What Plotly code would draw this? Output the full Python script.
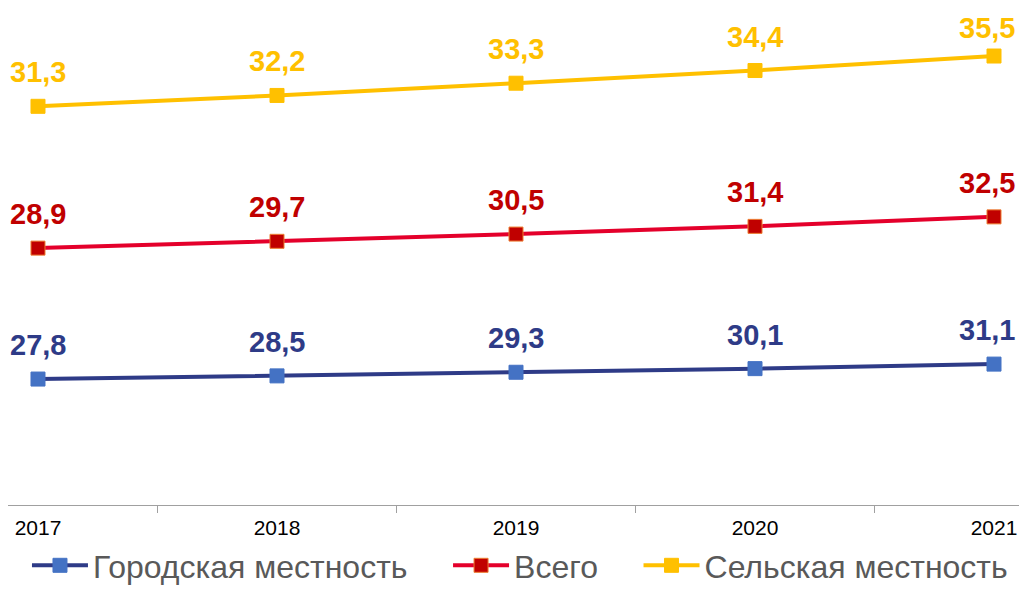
import numpy as np
import plotly.graph_objects as go

years = ["2017", "2018", "2019", "2020", "2021"]
urban = [27.8, 28.5, 29.3, 30.1, 31.1]
total = [28.9, 29.7, 30.5, 31.4, 32.5]
rural = [31.3, 32.2, 33.3, 34.4, 35.5]

names = ["Городская местность", "Всего", "Сельская местность"]
series = [urban, total, rural]
line_colors = ["#2E3B87", "#E4002B", "#FFC000"]
marker_colors = ["#4472C4", "#C00000", "#FFC000"]
marker_lines = ["#4472C4", "#ED7D31", "#FFC000"]
label_colors = ["#2E3B87", "#C00000", "#FFC000"]
pad = ["\u00a0" * 4, "\u00a0" * 4, ""]

stacked = np.cumsum(np.array(series), axis=0)

def fmt(v):
    return f"{v:.1f}".replace(".", ",")

fig = go.Figure()
for i, (name, vals) in enumerate(zip(names, series)):
    fig.add_trace(go.Scatter(
        x=years, y=[float(v) for v in stacked[i]], name=name + pad[i],
        mode="lines+markers",
        line=dict(color=line_colors[i], width=4),
        marker=dict(symbol="square", size=14, color=marker_colors[i],
                    line=dict(color=marker_lines[i], width=1)),
    ))
    n = len(vals)
    for k, (yv, v) in enumerate(zip(stacked[i], vals)):
        top_right = (i == len(series) - 1 and k == n - 1)
        fig.add_annotation(
            x=k, y=float(yv), xref="x", yref="y", text="<b>" + fmt(v) + "</b>",
            showarrow=False, yshift=(28 if top_right else 34),
            xshift=(-7 if k == n - 1 else 0),
            xanchor="center", yanchor="middle",
            font=dict(family="Liberation Sans, Arial", size=29, color=label_colors[i]),
        )

fig.update_layout(
    width=1011, height=585,
    margin=dict(l=0, r=0, t=0, b=88, autoexpand=False),
    plot_bgcolor="white", paper_bgcolor="white",
    font=dict(family="Liberation Sans, Arial"),
    showlegend=True,
    legend=dict(orientation="h", x=0.5064, xanchor="center", xref="container",
                y=0, yanchor="bottom", yref="container", itemwidth=56,
                font=dict(size=32, color="#595959")),
    xaxis=dict(type="category", range=[-0.1255, 4.1046], tickson="boundaries",
               ticks="outside", ticklen=7, tickcolor="#A0A0A0",
               showline=True, linecolor="#A0A0A0", linewidth=1,
               showgrid=False, tickfont=dict(size=21, color="black"),
               ticklabelstandoff=4, fixedrange=True),
    yaxis=dict(range=[0, 109.7], visible=False, showgrid=False, fixedrange=True),
)

fig.write_html("out.html")
